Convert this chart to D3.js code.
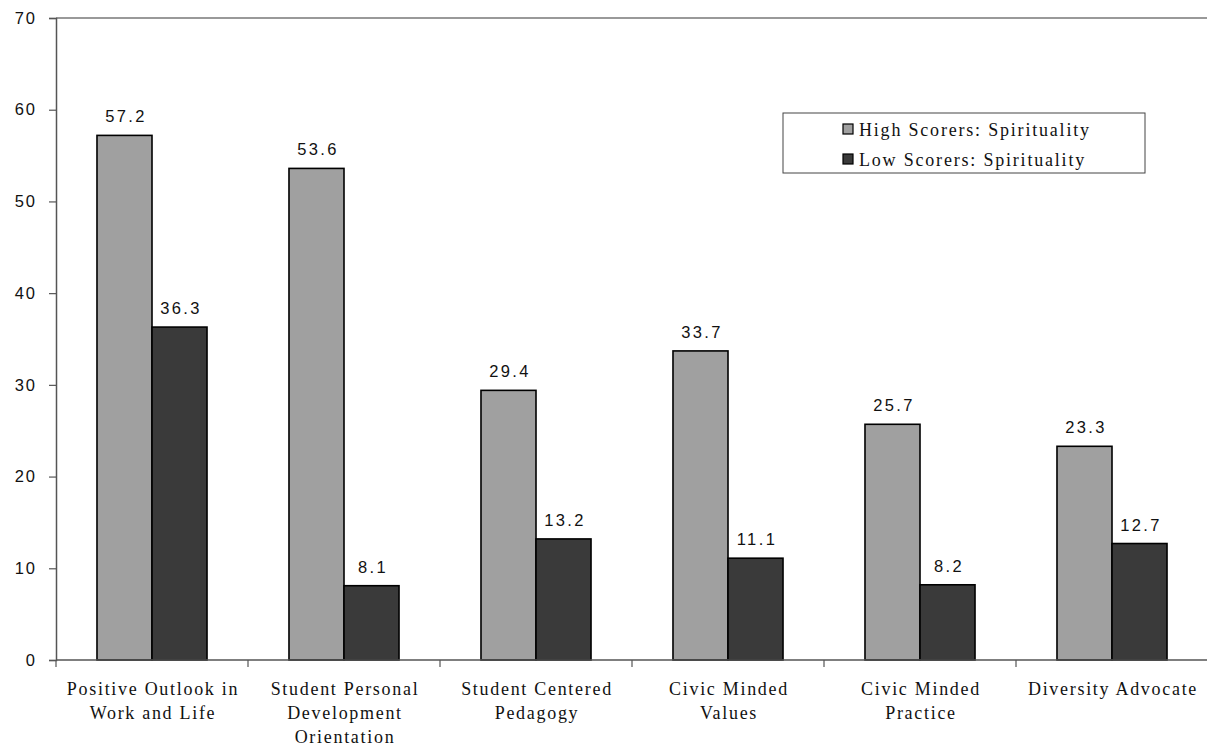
<!DOCTYPE html>
<html>
<head>
<meta charset="utf-8">
<script src="https://cdn.jsdelivr.net/npm/d3@7"></script>
<style>
  html, body { margin: 0; padding: 0; background: #fff; }
  svg { display: block; }
</style>
</head>
<body>
<svg id="chart" width="1207" height="750"></svg>
<script>
const categories = [
  ["Positive Outlook in", "Work and Life"],
  ["Student Personal", "Development", "Orientation"],
  ["Student Centered", "Pedagogy"],
  ["Civic Minded", "Values"],
  ["Civic Minded", "Practice"],
  ["Diversity Advocate"]
];
const seriesNames = ["High Scorers: Spirituality", "Low Scorers: Spirituality"];
const highScores = [57.2, 53.6, 29.4, 33.7, 25.7, 23.3];
const lowScores = [36.3, 8.1, 13.2, 11.1, 8.2, 12.7];
const yTicks = [0, 10, 20, 30, 40, 50, 60, 70];
const seriesColors = ["#a0a0a0", "#3a3a3a"];

const svg = d3.select("#chart");
const margin = { left: 56, right: 0, top: 18, bottom: 90 };
const W = 1207, H = 750;
const plotBottom = 660;

const catIdx = categories.map((d, i) => i);
const x0 = d3.scaleBand().domain(catIdx).range([margin.left, margin.left + 192 * 6]).padding(0);
const x1 = d3.scaleBand().domain([0, 1]).range([0, x0.bandwidth()]).paddingInner(0).paddingOuter(0.745);
const y = d3.scaleLinear().domain([0, 70]).range([plotBottom, margin.top]);

// top border line
svg.append("line")
  .attr("x1", margin.left).attr("x2", W)
  .attr("y1", y(70)).attr("y2", y(70))
  .attr("stroke", "#777").attr("stroke-width", 1.5);

// Y axis
const yAxis = svg.append("g")
  .attr("transform", `translate(${margin.left},0)`)
  .call(d3.axisLeft(y).tickValues(yTicks).tickSize(7).tickPadding(12).tickFormat(d3.format("d")));
yAxis.select(".domain").attr("stroke", "#555").attr("stroke-width", 1.5);
yAxis.selectAll(".tick line").attr("stroke", "#555").attr("stroke-width", 1.2);
yAxis.selectAll(".tick text")
  .attr("font-family", "'Liberation Sans', Arial, sans-serif")
  .attr("font-size", 16.5).attr("fill", "#111").attr("letter-spacing", "2px");

// bars
const data = catIdx.map(i => [highScores[i], lowScores[i]]);
const groups = svg.append("g").selectAll("g").data(data).join("g")
  .attr("transform", (d, i) => `translate(${x0(i)},0)`);

groups.selectAll("rect").data(d => d.map((v, s) => ({ v, s }))).join("rect")
  .attr("x", d => x1(d.s))
  .attr("y", d => y(d.v))
  .attr("width", x1.bandwidth())
  .attr("height", d => y(0) - y(d.v))
  .attr("fill", d => seriesColors[d.s])
  .attr("stroke", "#000").attr("stroke-width", 1.6);

groups.selectAll("text.val").data(d => d.map((v, s) => ({ v, s }))).join("text")
  .attr("class", "val")
  .attr("x", d => x1(d.s) + x1.bandwidth() / 2 + 1.5)
  .attr("y", d => y(d.v) - 13)
  .attr("text-anchor", "middle")
  .attr("font-family", "'Liberation Sans', Arial, sans-serif")
  .attr("font-size", 16.5).attr("letter-spacing", "2.4px").attr("fill", "#111")
  .text(d => d.v.toFixed(1));

// X axis
const xAxisG = svg.append("g");
xAxisG.append("line")
  .attr("x1", margin.left).attr("x2", W)
  .attr("y1", plotBottom).attr("y2", plotBottom)
  .attr("stroke", "#555").attr("stroke-width", 1.5);
xAxisG.selectAll("line.tick").data(catIdx).join("line")
  .attr("class", "tick")
  .attr("x1", d => x0(d)).attr("x2", d => x0(d))
  .attr("y1", plotBottom).attr("y2", plotBottom + 7)
  .attr("stroke", "#555").attr("stroke-width", 1.2);

const labels = svg.append("g").selectAll("text").data(categories).join("text")
  .attr("text-anchor", "middle")
  .attr("font-family", "'Liberation Serif', 'Times New Roman', serif")
  .attr("font-size", 18).attr("letter-spacing", "1.7px").attr("fill", "#111");
labels.each(function(lines, i) {
  d3.select(this).selectAll("tspan").data(lines).join("tspan")
    .attr("x", x0(i) + x0.bandwidth() / 2 + 1)
    .attr("y", (d, j) => 695 + j * 24)
    .text(d => d);
});

// legend
const lg = svg.append("g");
lg.append("rect").attr("x", 783).attr("y", 113).attr("width", 362).attr("height", 60)
  .attr("fill", "#fff").attr("stroke", "#444").attr("stroke-width", 1);
seriesNames.forEach((name, i) => {
  lg.append("rect").attr("x", 843).attr("y", 124 + i * 30).attr("width", 10).attr("height", 10)
    .attr("fill", seriesColors[i]).attr("stroke", "#000").attr("stroke-width", 1.2);
  lg.append("text").attr("x", 859).attr("y", 136 + i * 30)
    .attr("font-family", "'Liberation Serif', 'Times New Roman', serif")
    .attr("font-size", 18).attr("letter-spacing", "1.8px").attr("fill", "#111")
    .text(name);
});
</script>
</body>
</html>
